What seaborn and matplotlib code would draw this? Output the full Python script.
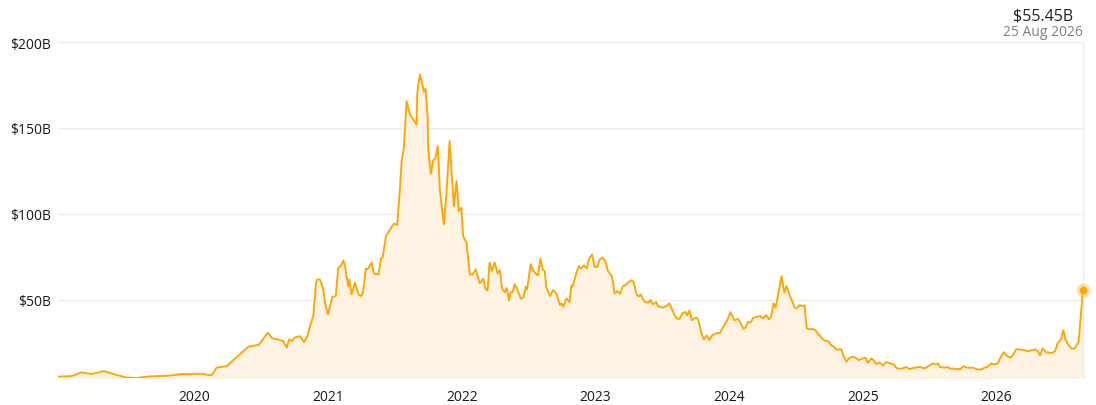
import numpy as np
import pandas as pd
import matplotlib
matplotlib.use("Agg")
import matplotlib.pyplot as plt
import matplotlib.dates as mdates
from matplotlib.ticker import FixedLocator, FuncFormatter
import seaborn as sns

# ---- data (time in decimal years, value in $B) ----
years = [
    2018.981, 2019.084, 2019.158, 2019.233, 2019.327, 2019.407, 2019.482, 2019.570, 2019.656, 2019.806,
    2019.906, 2020.055, 2020.130, 2020.167, 2020.242, 2020.404, 2020.484, 2020.549, 2020.573, 2020.583,
    2020.623, 2020.665, 2020.691, 2020.708, 2020.732, 2020.747, 2020.790, 2020.820, 2020.845, 2020.865,
    2020.889, 2020.910, 2020.919, 2020.939, 2020.964, 2020.977, 2020.999, 2021.031, 2021.057, 2021.076,
    2021.094, 2021.114, 2021.126, 2021.151, 2021.158, 2021.176, 2021.201, 2021.226, 2021.244, 2021.259,
    2021.283, 2021.296, 2021.326, 2021.343, 2021.378, 2021.395, 2021.408, 2021.433, 2021.457, 2021.493,
    2021.517, 2021.537, 2021.550, 2021.567, 2021.587, 2021.612, 2021.637, 2021.662, 2021.667, 2021.687,
    2021.702, 2021.717, 2021.729, 2021.744, 2021.749, 2021.769, 2021.786, 2021.801, 2021.821, 2021.836,
    2021.866, 2021.886, 2021.909, 2021.926, 2021.941, 2021.961, 2021.978, 2021.998, 2022.010, 2022.036,
    2022.061, 2022.081, 2022.105, 2022.135, 2022.160, 2022.178, 2022.193, 2022.208, 2022.227, 2022.247,
    2022.268, 2022.285, 2022.302, 2022.322, 2022.337, 2022.354, 2022.365, 2022.380, 2022.397, 2022.412,
    2022.442, 2022.462, 2022.479, 2022.489, 2022.516, 2022.537, 2022.561, 2022.571, 2022.589, 2022.606,
    2022.621, 2022.634, 2022.661, 2022.683, 2022.709, 2022.735, 2022.750, 2022.761, 2022.783, 2022.806,
    2022.821, 2022.830, 2022.858, 2022.877, 2022.890, 2022.915, 2022.935, 2022.952, 2022.975, 2022.995,
    2023.015, 2023.032, 2023.052, 2023.075, 2023.094, 2023.124, 2023.144, 2023.164, 2023.184, 2023.206,
    2023.224, 2023.244, 2023.269, 2023.286, 2023.306, 2023.324, 2023.339, 2023.356, 2023.374, 2023.398,
    2023.413, 2023.431, 2023.456, 2023.468, 2023.505, 2023.531, 2023.555, 2023.572, 2023.593, 2023.613,
    2023.630, 2023.655, 2023.673, 2023.688, 2023.705, 2023.722, 2023.742, 2023.759, 2023.774, 2023.792,
    2023.812, 2023.834, 2023.854, 2023.874, 2023.904, 2023.934, 2023.954, 2023.984, 2024.011, 2024.041,
    2024.066, 2024.084, 2024.108, 2024.123, 2024.141, 2024.158, 2024.183, 2024.215, 2024.235, 2024.253,
    2024.278, 2024.298, 2024.315, 2024.333, 2024.348, 2024.365, 2024.392, 2024.413, 2024.430, 2024.452,
    2024.472, 2024.490, 2024.507, 2024.527, 2024.544, 2024.564, 2024.581, 2024.602, 2024.626, 2024.646,
    2024.676, 2024.701, 2024.726, 2024.746, 2024.764, 2024.783, 2024.801, 2024.821, 2024.839, 2024.856,
    2024.876, 2024.895, 2024.925, 2024.945, 2024.970, 2024.996, 2025.018, 2025.037, 2025.063, 2025.080,
    2025.100, 2025.125, 2025.149, 2025.175, 2025.212, 2025.229, 2025.254, 2025.287, 2025.324, 2025.349,
    2025.386, 2025.424, 2025.461, 2025.499, 2025.523, 2025.543, 2025.561, 2025.578, 2025.611, 2025.635,
    2025.653, 2025.673, 2025.693, 2025.710, 2025.728, 2025.753, 2025.777, 2025.827, 2025.852, 2025.885,
    2025.910, 2025.934, 2025.960, 2025.979, 2026.009, 2026.029, 2026.054, 2026.079, 2026.104, 2026.121,
    2026.147, 2026.171, 2026.201, 2026.233, 2026.266, 2026.291, 2026.308, 2026.326, 2026.345, 2026.371,
    2026.395, 2026.420, 2026.438, 2026.457, 2026.483, 2026.500, 2026.515, 2026.540, 2026.562, 2026.582,
    2026.595, 2026.614, 2026.647,
]
values_b = [
    5.1, 5.4, 7.6, 6.6, 8.3, 6.4, 4.7, 4.3, 5.2, 5.6,
    6.6, 6.8, 5.8, 10.3, 11.2, 22.5, 23.7, 30.7, 28.4, 27.4,
    26.8, 25.8, 22.0, 26.8, 25.8, 27.8, 28.7, 25.2, 28.7, 34.5,
    40.4, 59.8, 61.7, 61.7, 55.9, 48.2, 41.4, 51.4, 52.0, 68.5,
    69.5, 72.8, 69.5, 57.8, 61.7, 53.0, 59.8, 53.0, 52.0, 53.6,
    68.1, 67.6, 71.5, 65.2, 64.6, 74.0, 74.4, 87.0, 89.9, 94.3,
    93.4, 114.0, 130.6, 138.4, 165.6, 157.8, 154.9, 152.0, 170.5, 181.1,
    176.3, 171.0, 172.8, 156.8, 137.4, 123.3, 131.0, 132.0, 139.4, 114.0,
    93.8, 112.2, 142.3, 121.9, 104.4, 119.0, 101.5, 103.5, 87.0, 83.1,
    64.6, 64.6, 67.6, 59.4, 62.1, 56.3, 55.3, 71.5, 66.6, 71.5,
    65.2, 67.0, 56.3, 54.3, 56.7, 49.5, 54.3, 54.3, 58.8, 56.9,
    50.5, 51.1, 57.5, 55.9, 70.6, 66.6, 64.6, 64.1, 73.8, 67.6,
    66.6, 56.9, 52.0, 55.5, 53.6, 46.8, 47.8, 45.8, 50.7, 48.5,
    58.2, 57.5, 65.6, 69.5, 68.1, 69.9, 68.1, 73.4, 76.3, 68.9,
    69.1, 73.4, 74.4, 72.4, 66.6, 63.7, 53.6, 54.9, 53.4, 57.8,
    58.4, 59.8, 61.2, 60.4, 53.6, 51.7, 53.0, 50.1, 48.5, 48.2,
    49.7, 47.2, 48.5, 46.2, 45.3, 46.2, 47.8, 44.7, 40.8, 38.8,
    38.8, 42.3, 42.7, 40.9, 43.6, 38.0, 39.0, 39.4, 37.4, 30.7,
    26.8, 29.1, 26.4, 29.1, 30.3, 30.7, 33.6, 37.4, 42.7, 37.9,
    38.8, 36.9, 33.0, 33.6, 36.9, 36.5, 39.4, 40.0, 40.4, 39.0,
    40.9, 38.4, 40.4, 47.8, 45.3, 52.0, 63.7, 54.0, 57.8, 52.6,
    49.1, 45.3, 44.8, 46.8, 46.2, 46.6, 33.2, 32.6, 33.0, 32.0,
    29.1, 26.8, 25.8, 25.5, 23.3, 22.5, 21.0, 21.0, 21.0, 17.1,
    13.8, 15.7, 16.7, 16.1, 14.7, 15.7, 16.1, 13.2, 15.7, 14.6,
    12.4, 13.2, 11.6, 13.6, 12.6, 12.2, 9.9, 9.7, 10.7, 9.5,
    10.3, 10.7, 9.9, 11.6, 12.8, 12.2, 12.8, 10.7, 10.3, 10.7,
    9.7, 9.9, 9.3, 9.7, 9.3, 11.2, 10.3, 10.3, 9.3, 9.3,
    10.3, 10.9, 12.8, 12.2, 12.8, 16.1, 19.4, 17.1, 16.1, 17.5,
    21.0, 21.0, 20.6, 20.0, 20.4, 21.0, 20.0, 17.5, 21.5, 19.4,
    19.0, 19.0, 20.0, 24.5, 26.8, 32.2, 26.8, 23.3, 21.4, 21.5,
    22.9, 25.2, 55.45,
]
tick_years = [2020, 2021, 2022, 2023, 2024, 2025, 2026]
y_ticks = [50, 100, 150, 200]
last_value_label = "$55.45B"
last_date_label = "25 Aug 2026"

# ---- convert decimal years to timestamps ----
def dec_to_ts(y):
    yr = int(np.floor(y))
    start = pd.Timestamp(year=yr, month=1, day=1)
    end = pd.Timestamp(year=yr + 1, month=1, day=1)
    return start + (end - start) * (y - yr)

df = pd.DataFrame({"date": [dec_to_ts(y) for y in years], "value": values_b})

LINE = "#FFA500"
FILL = "#FEF2E2"
GRID = "#EBEBEB"

sns.set_theme(style="white")
plt.rcParams["font.family"] = ["Open Sans", "DejaVu Sans"]

W, H = 1096, 406
fig = plt.figure(figsize=(W / 100, H / 100), dpi=100)
ax = fig.add_axes([58 / W, (H - 379) / H, (1083 - 58) / W, (379 - 43) / H])

ax.fill_between(df["date"], df["value"], 0, color=FILL, linewidth=0, zorder=1)
sns.lineplot(data=df, x="date", y="value", ax=ax, color=LINE, linewidth=1.35, zorder=3)

last = df.iloc[[-1]]
ax.scatter(last["date"], last["value"], s=100, color=LINE, alpha=0.35, linewidths=0, zorder=4, clip_on=False)
ax.scatter(last["date"], last["value"], s=30, color=LINE, linewidths=0, zorder=5, clip_on=False)

ax.set_xlim(df["date"].iloc[0], df["date"].iloc[-1])
ax.set_ylim(min(values_b), 200)

ax.xaxis.set_major_locator(FixedLocator([mdates.date2num(pd.Timestamp(year=y, month=1, day=1)) for y in tick_years]))
ax.xaxis.set_major_formatter(mdates.DateFormatter("%Y"))
ax.yaxis.set_major_locator(FixedLocator(y_ticks))
ax.yaxis.set_major_formatter(FuncFormatter(lambda v, p: f"${v:.0f}B"))

ax.grid(axis="y", color=GRID, linewidth=1.0, zorder=0)
ax.grid(axis="x", visible=False)
ax.set_axisbelow(True)
for s in ["top", "left", "bottom"]:
    ax.spines[s].set_visible(False)
ax.spines["right"].set_color(GRID)
ax.spines["right"].set_linewidth(1.0)

ax.tick_params(axis="both", length=0, labelsize=10, labelcolor="#1a1a1a")
ax.tick_params(axis="y", pad=5)
ax.tick_params(axis="x", pad=8)
ax.set_xlabel("")
ax.set_ylabel("")

fig.text(1043 / W, 1 - 17 / H, last_value_label, ha="center", va="center", fontsize=11.5, color="#222222")
fig.text(1043 / W, 1 - 33 / H, last_date_label, ha="center", va="center", fontsize=10, color="#808080")

fig.savefig("out.png", dpi=100, facecolor="white")
